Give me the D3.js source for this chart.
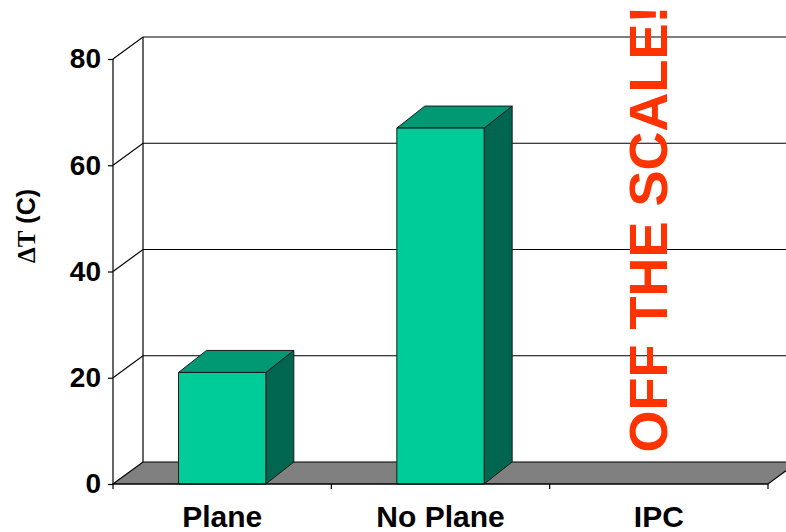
<!DOCTYPE html>
<html>
<head>
<meta charset="utf-8">
<script src="https://cdn.jsdelivr.net/npm/d3@7"></script>
<style>
  body { margin: 0; background: #fff; }
  text { font-family: "Liberation Sans", Arial, sans-serif; font-weight: bold; }
</style>
</head>
<body>
<div id="chart"></div>
<script>
const categories = ["Plane", "No Plane", "IPC"];
const values = [21, 67, null];   // IPC is off the scale
const yTicks = [0, 20, 40, 60, 80];

const width = 786, height = 532;
const depth = { dx: 30, dy: 22 };      // wall depth
const barDepth = { dx: 28, dy: 22 };   // bar depth

const svg = d3.select("#chart").append("svg")
  .attr("width", width)
  .attr("height", height);

const x = d3.scaleBand()
  .domain(categories)
  .range([113, 768])
  .paddingInner(0.6)
  .paddingOuter(0.3);

const y = d3.scaleLinear()
  .domain([0, 80])
  .range([484, 59]);

// back wall gridlines
const grid = svg.append("g").attr("stroke", "#000").attr("stroke-width", 1.2).attr("fill", "none");
yTicks.filter(t => t > 0).forEach(t => {
  grid.append("path")
    .attr("d", `M${x.range()[0]},${y(t)}L${x.range()[0] + depth.dx},${y(t) - depth.dy}L${width + 20},${y(t) - depth.dy}`);
});
grid.append("line")
  .attr("x1", x.range()[0] + depth.dx).attr("x2", x.range()[0] + depth.dx)
  .attr("y1", y(80) - depth.dy).attr("y2", y(0) - depth.dy);

// floor
const x0 = x.range()[0], x1 = x.range()[1];
svg.append("path")
  .attr("d", `M${x0},${y(0)}L${x1},${y(0)}L${x1 + depth.dx},${y(0) - depth.dy}L${x0 + depth.dx},${y(0) - depth.dy}Z`)
  .attr("fill", "#808080")
  .attr("stroke", "#000")
  .attr("stroke-width", 1.2);

// bars
const bars = svg.append("g").selectAll("g")
  .data(categories.map((c, i) => ({ c, v: values[i] })).filter(d => d.v != null))
  .enter().append("g")
  .attr("stroke", "#1a1a1a")
  .attr("stroke-width", 1)
  .attr("stroke-linejoin", "round");

bars.append("path") // side
  .attr("fill", "#006650")
  .attr("d", d => {
    const r = x(d.c) + x.bandwidth();
    return `M${r},${y(0)}L${r + barDepth.dx},${y(0) - barDepth.dy}L${r + barDepth.dx},${y(d.v) - barDepth.dy}L${r},${y(d.v)}Z`;
  });
bars.append("path") // top
  .attr("fill", "#009973")
  .attr("d", d => {
    const l = x(d.c), r = l + x.bandwidth(), t = y(d.v);
    return `M${l},${t}L${l + barDepth.dx},${t - barDepth.dy}L${r + barDepth.dx},${t - barDepth.dy}L${r},${t}Z`;
  });
bars.append("rect") // front
  .attr("fill", "#00CC99")
  .attr("x", d => x(d.c))
  .attr("y", d => y(d.v))
  .attr("width", x.bandwidth())
  .attr("height", d => y(0) - y(d.v));

// y axis
const yAxis = d3.axisLeft(y).tickValues(yTicks).tickSize(5).tickPadding(7);
const ya = svg.append("g").attr("transform", `translate(${x0},0)`).call(yAxis);
ya.select(".domain").attr("stroke", "#000").attr("stroke-width", 1.2).attr("d", `M0,${y(80)}V${y(0)}`);
ya.selectAll(".tick line").attr("stroke", "#000").attr("stroke-width", 1.2);
ya.selectAll(".tick text").attr("font-size", 28).attr("font-family", "Liberation Sans, Arial, sans-serif")
  .attr("font-weight", "bold").attr("fill", "#000");

// x axis
const xa = svg.append("g").attr("stroke", "#000").attr("stroke-width", 1.2);
xa.append("line").attr("x1", x0).attr("x2", x1).attr("y1", y(0)).attr("y2", y(0));
const step = x.step();
d3.range(categories.length + 1).forEach(i => {
  xa.append("line").attr("x1", x0 + i * step).attr("x2", x0 + i * step).attr("y1", y(0)).attr("y2", y(0) + 5);
});
svg.append("g").selectAll("text")
  .data(categories)
  .enter().append("text")
  .attr("x", d => x(d) + x.bandwidth() / 2)
  .attr("y", 527)
  .attr("text-anchor", "middle")
  .attr("font-size", 30)
  .text(d => d);

// y title
const yt = svg.append("text")
  .attr("transform", "translate(35,226) rotate(-90)")
  .attr("text-anchor", "middle")
  .attr("font-size", 25);
yt.append("tspan").attr("font-family", "Liberation Serif, Times New Roman, serif").text("ΔT");
yt.append("tspan").text(" (C)");

// off the scale note
svg.append("text")
  .attr("transform", `translate(${x("IPC") + x.bandwidth() / 2 + 8},229) rotate(-90)`)
  .attr("text-anchor", "middle")
  .attr("font-size", 54)
  .attr("fill", "#FF3300")
  .text("OFF THE SCALE!");
</script>
</body>
</html>
